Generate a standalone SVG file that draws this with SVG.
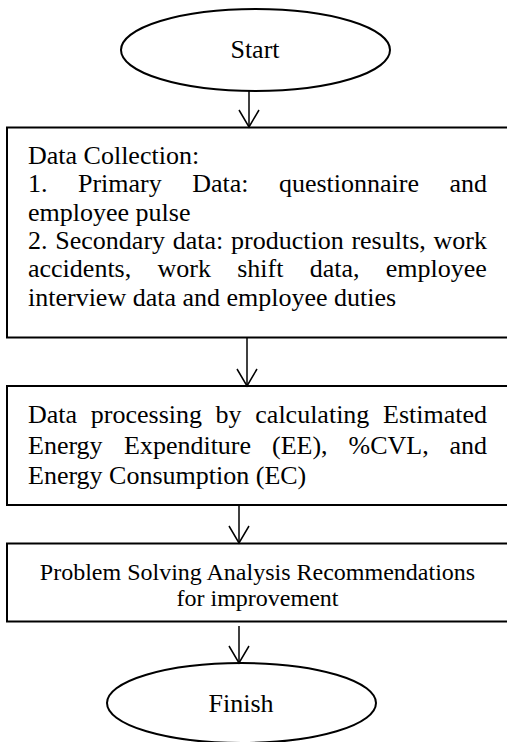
<svg xmlns="http://www.w3.org/2000/svg" width="507" height="742" viewBox="0 0 507 742">
  <style>
    .shape { fill: #ffffff; stroke: #000000; stroke-width: 2; }
    .conn { fill: none; stroke: #000000; stroke-width: 1.5; }
    .t { font-family: "Liberation Serif", "Times New Roman", serif; font-size: 26px; fill: #000000; }
    .small { font-size: 24px; }
    .mid { text-anchor: middle; }
  </style>
  <defs>
    <!-- open V arrowhead, tip at the end of the connector -->
    <marker id="vhead" markerUnits="userSpaceOnUse" markerWidth="24" markerHeight="24" viewBox="-20 -12 24 24" refX="0" refY="0" orient="auto" overflow="visible">
      <path d="M-17,-10 L0,0 L-17,10" fill="none" stroke="#000" stroke-width="1.5"/>
    </marker>
  </defs>
  <rect width="507" height="742" fill="#ffffff"/>

  <g id="start">
    <ellipse class="shape" cx="255.5" cy="50" rx="134.5" ry="41"/>
    <text class="t mid" x="255" y="58">Start</text>
  </g>

  <!-- justified paragraph lines: words placed so each line spans x 28 to 487 -->
  <g id="data-collection">
    <rect class="shape" x="7" y="127.5" width="510" height="210"/>
    <text class="t" x="28" y="164">Data Collection:</text>
    <text class="t" y="192.3"><tspan x="28">1.</tspan><tspan x="78">Primary</tspan><tspan x="192.2">Data:</tspan><tspan x="278.9">questionnaire</tspan><tspan x="449.5">and</tspan></text>
    <text class="t" x="28" y="220.6">employee pulse</text>
    <text class="t" y="249"><tspan x="28">2.</tspan><tspan x="55.3">Secondary</tspan><tspan x="172.7">data:</tspan><tspan x="231">production</tspan><tspan x="351.4">results,</tspan><tspan x="433.6">work</tspan></text>
    <text class="t" y="277.3"><tspan x="28">accidents,</tspan><tspan x="157.5">work</tspan><tspan x="237.2">shift</tspan><tspan x="309.7">data,</tspan><tspan x="385.8">employee</tspan></text>
    <text class="t" x="28" y="305.6">interview data and employee duties</text>
  </g>

  <g id="data-processing">
    <rect class="shape" x="7" y="386" width="510" height="119"/>
    <text class="t" y="423"><tspan x="28">Data</tspan><tspan x="90.8">processing</tspan><tspan x="215.6">by</tspan><tspan x="255.3">calculating</tspan><tspan x="383">Estimated</tspan></text>
    <text class="t" y="453.5"><tspan x="28">Energy</tspan><tspan x="124">Expenditure</tspan><tspan x="272">(EE),</tspan><tspan x="348.5">%CVL,</tspan><tspan x="449.5">and</tspan></text>
    <text class="t" x="28" y="484">Energy Consumption (EC)</text>
  </g>

  <g id="analysis">
    <rect class="shape" x="7" y="543.5" width="510" height="78"/>
    <text class="t small mid" x="257.5" y="580">Problem Solving Analysis Recommendations</text>
    <text class="t small mid" x="257.5" y="606">for improvement</text>
  </g>

  <g id="finish">
    <ellipse class="shape" cx="241.5" cy="703" rx="134.5" ry="40"/>
    <text class="t mid" x="241" y="712">Finish</text>
  </g>

  <g id="connectors">
    <path class="conn" d="M249,91 V127" marker-end="url(#vhead)"/>
    <path class="conn" d="M247,338 V386" marker-end="url(#vhead)"/>
    <path class="conn" d="M239,505 V543" marker-end="url(#vhead)"/>
    <path class="conn" d="M239,626 V663" marker-end="url(#vhead)"/>
  </g>
</svg>
